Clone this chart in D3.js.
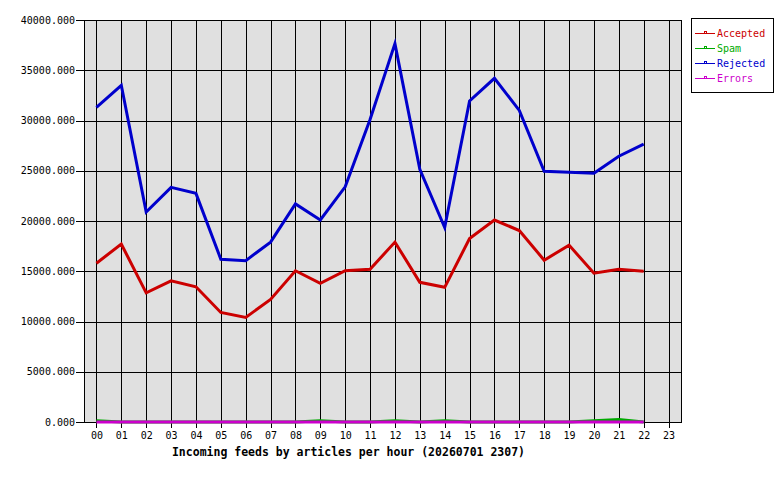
<!DOCTYPE html>
<html>
<head>
<meta charset="utf-8">
<script src="https://cdn.jsdelivr.net/npm/d3@7"></script>
<style>
  body { margin: 0; background: #fff; }
  text { font-family: "DejaVu Sans Mono", monospace; }
</style>
</head>
<body>
<div id="chart"></div>
<script>
var hours = ["00","01","02","03","04","05","06","07","08","09","10","11",
             "12","13","14","15","16","17","18","19","20","21","22","23"];

var accepted = [15800, 17700, 12850, 14050, 13450, 10900, 10400, 12200, 15050, 13800, 15050, 15200,
                17900, 13900, 13400, 18250, 20100, 19050, 16100, 17600, 14800, 15200, 15000];
var spam     = [120, 0, 0, 0, 0, 0, 0, 0, 0, 120, 0, 0,
                120, 0, 120, 0, 0, 0, 0, 0, 120, 250, 0];
var rejected = [31300, 33500, 20900, 23350, 22750, 16200, 16050, 17900, 21700, 20100, 23400, 30100,
                37650, 25150, 19350, 31950, 34200, 31000, 24950, 24850, 24750, 26450, 27650];
var errors   = [0, 0, 0, 0, 0, 0, 0, 0, 0, 0, 0, 0,
                0, 0, 0, 0, 0, 0, 0, 0, 0, 0, 0];

var seriesNames  = ["Accepted", "Spam", "Rejected", "Errors"];
var seriesColors = ["#cc0000", "#00aa00", "#0000cc", "#cc00cc"];
var yTicks = [0, 5000, 10000, 15000, 20000, 25000, 30000, 35000, 40000];
var title = "Incoming feeds by articles per hour (20260701 2307)";

var margin = {top: 20, right: 99, bottom: 58, left: 84},
  width = 780 - margin.left - margin.right,
  height = 480 - margin.top - margin.bottom;

var x = d3.scalePoint()
  .domain(hours)
  .range([0, width])
  .padding(0.5);

var y = d3.scaleLinear()
  .domain([0, 40000])
  .range([height, 0]);

var color = d3.scaleOrdinal()
  .domain(seriesNames)
  .range(seriesColors);

var svg = d3.select("#chart").append("svg")
  .attr("width", 780)
  .attr("height", 480)
  .append("g")
  .attr("transform", "translate(" + margin.left + "," + margin.top + ")");

// plot background
svg.append("rect")
  .attr("width", width)
  .attr("height", height)
  .style("fill", "#e0e0e0");

// grid
svg.append("g")
  .selectAll("line")
  .data(hours)
  .enter().append("line")
  .attr("x1", function(d) { return Math.round(x(d)) + 0.5; })
  .attr("x2", function(d) { return Math.round(x(d)) + 0.5; })
  .attr("y1", 0)
  .attr("y2", height)
  .style("stroke", "#000")
  .style("shape-rendering", "crispEdges");

svg.append("g")
  .selectAll("line")
  .data(yTicks)
  .enter().append("line")
  .attr("x1", 0)
  .attr("x2", width)
  .attr("y1", function(d) { return Math.round(y(d)) + 0.5; })
  .attr("y2", function(d) { return Math.round(y(d)) + 0.5; })
  .style("stroke", "#000")
  .style("shape-rendering", "crispEdges");

// border
svg.append("rect")
  .attr("x", 0.5)
  .attr("y", 0.5)
  .attr("width", width)
  .attr("height", height)
  .style("fill", "none")
  .style("stroke", "#000")
  .style("shape-rendering", "crispEdges");

// axes
var yAxis = d3.axisLeft(y)
  .tickValues(yTicks)
  .tickSize(8)
  .tickPadding(1)
  .tickFormat(d3.format(".3f"));

var xAxis = d3.axisBottom(x)
  .tickSize(6)
  .tickPadding(4);

var gy = svg.append("g")
  .attr("class", "y axis")
  .call(yAxis);

var gx = svg.append("g")
  .attr("class", "x axis")
  .attr("transform", "translate(0," + height + ")")
  .call(xAxis);

[gx, gy].forEach(function(g) {
  g.select(".domain").remove();
  g.selectAll(".tick line").style("stroke", "#000").style("shape-rendering", "crispEdges");
  g.selectAll(".tick text")
    .style("font-family", "'DejaVu Sans Mono', monospace")
    .style("font-size", "10px")
    .style("fill", "#000");
});

svg.append("text")
  .attr("x", width / 2 - 34)
  .attr("y", height + 34)
  .attr("text-anchor", "middle")
  .style("font-size", "11.5px")
  .style("font-weight", "bold")
  .text(title);

// series lines
var series = [accepted, spam, rejected, errors];

var line = d3.line()
  .x(function(d, i) { return x(hours[i]); })
  .y(function(d) { return y(d); });

series.forEach(function(values, k) {
  svg.append("path")
    .datum(values)
    .attr("d", line)
    .style("fill", "none")
    .style("stroke", color(seriesNames[k]))
    .style("stroke-width", 3)
    .style("stroke-linejoin", "miter");
});

// legend
var legendBox = d3.select("svg").append("g")
  .attr("transform", "translate(691,18)");

legendBox.append("rect")
  .attr("x", 0.5)
  .attr("y", 0.5)
  .attr("width", 82)
  .attr("height", 74)
  .style("fill", "#fff")
  .style("stroke", "#000")
  .style("shape-rendering", "crispEdges");

var legend = legendBox.selectAll(".legend")
  .data(seriesNames)
  .enter().append("g")
  .attr("class", "legend")
  .attr("transform", function(d, i) { return "translate(0," + (15 + i * 15) + ")"; });

legend.append("line")
  .attr("x1", 4)
  .attr("x2", 24)
  .attr("y1", 0.5)
  .attr("y2", 0.5)
  .style("stroke", color)
  .style("shape-rendering", "crispEdges");

legend.append("rect")
  .attr("x", 13.5)
  .attr("y", -1.5)
  .attr("width", 2)
  .attr("height", 2)
  .style("fill", "none")
  .style("stroke", color)
  .style("shape-rendering", "crispEdges");

legend.append("text")
  .attr("x", 26)
  .attr("y", 0)
  .attr("dy", ".35em")
  .style("font-size", "10px")
  .style("fill", color)
  .text(function(d) { return d; });
</script>
</body>
</html>
